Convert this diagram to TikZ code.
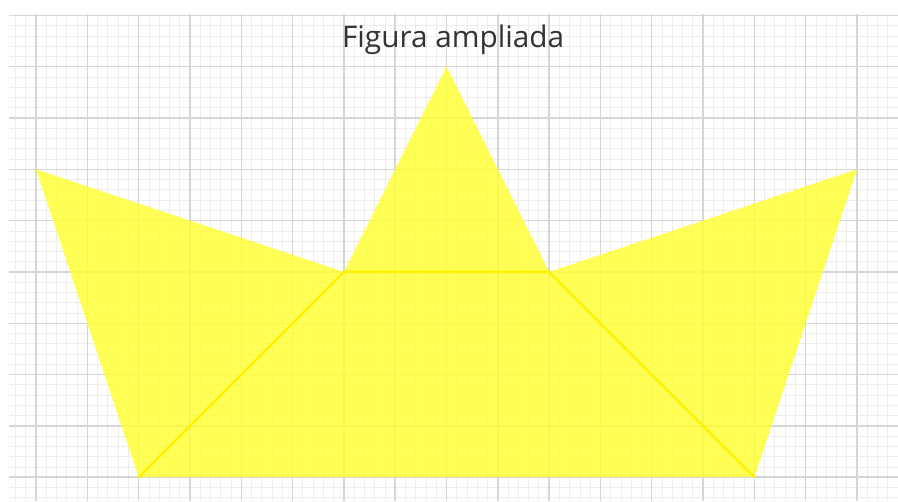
\documentclass[tikz,border=0pt]{standalone}
\usepackage{fontspec}
\setmainfont{Open Sans}
\definecolor{shapeyellow}{RGB}{255,255,50}
\definecolor{foldyellow}{RGB}{255,242,0}
\begin{document}
\begin{tikzpicture}[x=1cm,y=1cm,
  minorgrid/.style={draw=black!7, line width=0.4pt},
  majorgrid/.style={draw=black!16, line width=0.8pt},
  shapefill/.style={fill=shapeyellow, fill opacity=0.82},
  foldline/.style={draw=foldyellow, line width=1.4pt},
  titletext/.style={font=\fontsize{16.5}{20}\selectfont, text=black!80}]
\useasboundingbox (-0.702,-0.468) rectangle (16.8,9.30);
\fill[white] (-0.702,-0.468) rectangle (16.8,9.30);
% grid
\draw[minorgrid, step=0.2] (-0.52,-0.468) grid (16.8,9.02);
\foreach \x in {0,...,16} \draw[majorgrid] (\x,-0.468) -- (\x,9.02);
\foreach \y in {0,...,9} \draw[majorgrid] (-0.52,\y) -- (16.8,\y);
% shape
\coordinate (L) at (0,6);
\coordinate (T) at (8,8);
\coordinate (IL) at (6,4);
\coordinate (IR) at (10,4);
\coordinate (R) at (16,6);
\coordinate (BL) at (2,0);
\coordinate (BR) at (14,0);
\fill[shapefill] (L) -- (IL) -- (T) -- (IR) -- (R) -- (BR) -- (BL) -- cycle;
\draw[foldline] (BL) -- (IL) -- (IR) -- (BR);
\node[titletext] (title) at (8.13,8.52) {Figura ampliada};
\end{tikzpicture}
\end{document}
